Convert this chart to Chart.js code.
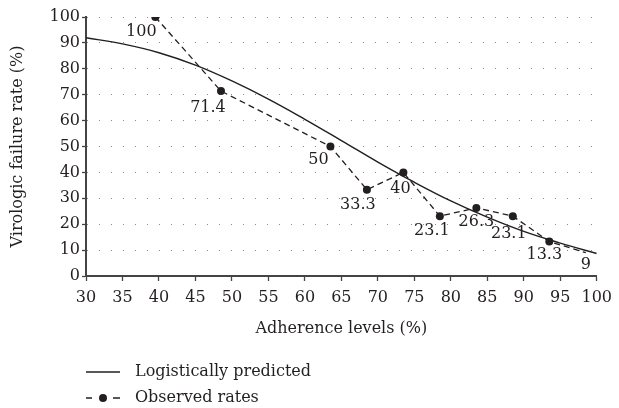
<!DOCTYPE html>
<html><head><meta charset="utf-8">
<script src="https://cdn.jsdelivr.net/npm/chart.js@4/dist/chart.umd.min.js"></script>
<style>html,body{margin:0;padding:0;background:#fff}canvas{display:block}</style>
</head><body>
<canvas id="c" width="619" height="408"></canvas>
<script>
// ---- data ----
const adherenceObserved = [39.5, 48.5, 63.5, 68.5, 73.5, 78.5, 83.5, 88.5, 93.5, 98.5];
const observedRates     = [100, 71.4, 50, 33.3, 40, 23.1, 26.3, 23.1, 13.3, 9];
const adherencePredicted = [30, 35, 40, 45, 50, 55, 60, 65, 70, 75, 80, 85, 90, 95, 100];
const predictedRates     = [92, 89.6, 86.2, 81.4, 75.3, 68.3, 60.5, 52.3, 44, 36.2, 29, 22.7, 17.2, 12.7, 8.7];
const seriesNames = ['Logistically predicted', 'Observed rates'];
const xAxisTitle = 'Adherence levels (%)';
const yAxisTitle = 'Virologic failure rate (%)';
const xRange = [30, 100], xStep = 5;
const yRange = [0, 100], yStep = 10;

const FONT = 'DejaVu Serif';
const INK = '#231f20';

const labelNudge = [[-14,15],[-13,17],[-12,13],[-9,15],[-3,16],[-8,15],[0,14],[-4,18],[-5,13],[0,12]];

const valueLabels = {
  id: 'valueLabels',
  afterDatasetsDraw(chart) {
    const meta = chart.getDatasetMeta(1);
    const ctx = chart.ctx;
    ctx.save();
    ctx.font = '16px "' + FONT + '"';
    ctx.fillStyle = INK;
    ctx.textAlign = 'center';
    ctx.textBaseline = 'middle';
    meta.data.forEach((pt, i) => {
      const n = labelNudge[i] || [0, 14];
      ctx.fillText(String(observedRates[i]), pt.x + n[0], pt.y + n[1]);
    });
    ctx.restore();
  }
};

const customLegend = {
  id: 'customLegend',
  afterDraw(chart) {
    const ctx = chart.ctx;
    const ds = chart.data.datasets;
    const x0 = 86, x1 = 120, tx = 135;
    const rows = [372, 398];
    ctx.save();
    ctx.font = '16px "' + FONT + '"';
    ctx.fillStyle = INK;
    ctx.textBaseline = 'middle';
    ctx.textAlign = 'left';
    ctx.strokeStyle = INK; ctx.lineWidth = 1.3;
    ctx.beginPath(); ctx.moveTo(x0, rows[0]); ctx.lineTo(x1, rows[0]); ctx.stroke();
    ctx.fillText(ds[0].label, tx, rows[0]);
    ctx.beginPath(); ctx.moveTo(x0, rows[1]); ctx.lineTo(x0 + 6, rows[1]);
    ctx.moveTo(x1 - 7, rows[1]); ctx.lineTo(x1, rows[1]); ctx.stroke();
    ctx.beginPath(); ctx.arc((x0 + x1) / 2, rows[1], 4, 0, Math.PI * 2); ctx.fill();
    ctx.fillText(ds[1].label, tx, rows[1]);
    ctx.restore();
  }
};

new Chart(document.getElementById('c'), {
  type: 'line',
  data: {
    datasets: [
      {
        label: seriesNames[0],
        data: adherencePredicted.map((x, i) => ({x, y: predictedRates[i]})),
        borderColor: INK, borderWidth: 1.4,
        pointRadius: 0, tension: 0.4, fill: false
      },
      {
        label: seriesNames[1],
        data: adherenceObserved.map((x, i) => ({x, y: observedRates[i]})),
        borderColor: INK, borderWidth: 1.3, borderDash: [6, 4],
        backgroundColor: INK, pointBackgroundColor: INK, pointBorderColor: INK,
        pointRadius: observedRates.map((v, i) => i === observedRates.length - 1 ? 0 : 4),
        pointBorderWidth: 0, tension: 0, fill: false
      }
    ]
  },
  options: {
    responsive: false, animation: false,
    layout: { padding: { top: 17, right: 15, left: 0, bottom: 68 } },
    plugins: { legend: { display: false }, tooltip: { enabled: false } },
    scales: {
      x: {
        type: 'linear', min: xRange[0], max: xRange[1],
        ticks: { stepSize: xStep, padding: 7, color: INK, font: { family: FONT, size: 16 } },
        grid: { drawOnChartArea: false, drawTicks: true, tickLength: 5, tickColor: '#444', tickWidth: 1.3, tickBorderDash: [] },
        border: { display: true, color: '#444', width: 2 },
        title: { display: true, text: xAxisTitle, color: INK, font: { family: FONT, size: 16 }, padding: { top: 0, bottom: 2 } },
        afterFit(s) { s.height = 64; }
      },
      y: {
        type: 'linear', min: yRange[0], max: yRange[1],
        ticks: { stepSize: yStep, padding: 2, color: INK, font: { family: FONT, size: 16 } },
        grid: { drawOnChartArea: true, color: '#8a8a8a', lineWidth: 1, borderDash: [1, 11], tickLength: 4, tickColor: '#444', tickWidth: 1.3, tickBorderDash: [] },
        border: { display: true, color: '#444', width: 2, dash: [1, 11] },
        title: { display: true, text: yAxisTitle, color: INK, font: { family: FONT, size: 16 }, padding: { top: 8, bottom: 0 } },
        afterFit(s) { s.width = 86; }
      }
    }
  },
  plugins: [valueLabels, customLegend]
});
</script>
</body></html>
